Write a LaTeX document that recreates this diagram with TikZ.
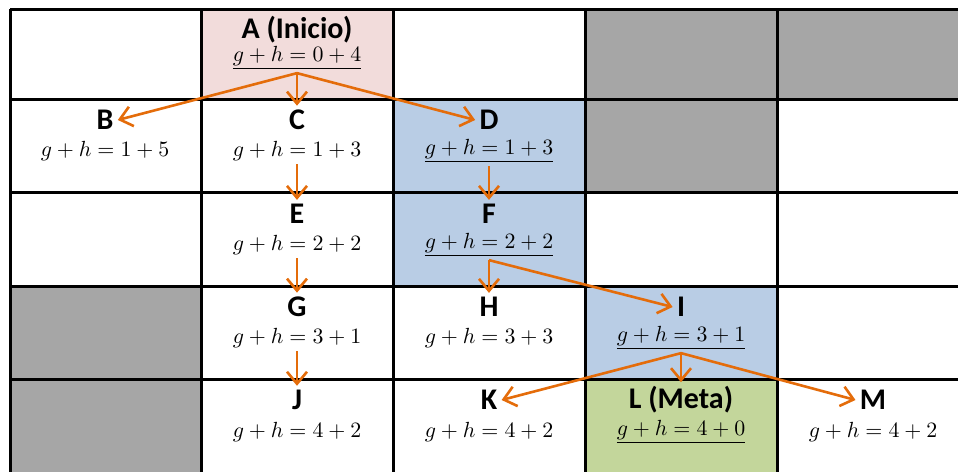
\documentclass[tikz,border=0pt]{standalone}
\usepackage{fontspec}
\setsansfont{Carlito}
\usepackage{xcolor}
\usepackage{tikz}
\usetikzlibrary{arrows.meta}

\definecolor{startfill}{HTML}{F2DCDB}
\definecolor{pathfill}{HTML}{B9CDE5}
\definecolor{goalfill}{HTML}{C3D69B}
\definecolor{wallfill}{HTML}{A6A6A6}
\definecolor{movecol}{HTML}{E46C0A}

\begin{document}
\begin{tikzpicture}[x=0.5pt, y=-0.5pt, >={Straight Barb[length=6pt, width=10pt]},
  lbl/.style={font=\sffamily\bfseries\fontsize{15}{17}\selectfont, inner sep=2pt},
  cost/.style={font=\fontsize{11}{13}\selectfont, inner sep=1.5pt},
  move/.style={->, draw=movecol, line width=1.3pt}]
  \useasboundingbox (0,0) rectangle (958,471);
  \begin{scope}
    \clip (0,0) rectangle (958,471);
    % cell colours
    \fill[startfill] (201,9) rectangle (393,99);
    \fill[pathfill] (393,99) rectangle (585,286);
    \fill[pathfill] (585,286) rectangle (777,379);
    \fill[goalfill] (585,379) rectangle (777,475);
    \fill[wallfill] (585,9) rectangle (970,99);
    \fill[wallfill] (585,99) rectangle (777,192);
    \fill[wallfill] (10,286) rectangle (201,475);
    % grid
    \foreach \y in {9,99,192,286,379}
      \draw[line width=1.5pt] (10,\y) -- (970,\y);
    \foreach \x in {10,201,393,585,777}
      \draw[line width=1.5pt] (\x,9) -- (\x,475);
  \end{scope}

  % states
  \node[lbl] (A) at (297,30) {A (Inicio)};
  \node[cost] (fA) at (297,58) {$\underline{g+h=0+4}$};
  \node[lbl] (B) at (105,120) {B};
  \node[cost] (fB) at (105,151) {$g+h=1+5$};
  \node[lbl] (C) at (297,120) {C};
  \node[cost] (fC) at (297,151) {$g+h=1+3$};
  \node[lbl] (D) at (489,120) {D};
  \node[cost] (fD) at (489,151) {$\underline{g+h=1+3}$};
  \node[lbl] (E) at (297,214) {E};
  \node[cost] (fE) at (297,245) {$g+h=2+2$};
  \node[lbl] (F) at (489,214) {F};
  \node[cost] (fF) at (489,245) {$\underline{g+h=2+2}$};
  \node[lbl] (G) at (297,307) {G};
  \node[cost] (fG) at (297,338) {$g+h=3+1$};
  \node[lbl] (H) at (489,307) {H};
  \node[cost] (fH) at (489,338) {$g+h=3+3$};
  \node[lbl] (I) at (681,307) {I};
  \node[cost] (fI) at (681,338) {$\underline{g+h=3+1}$};
  \node[lbl] (J) at (297,400) {J};
  \node[cost] (fJ) at (297,432) {$g+h=4+2$};
  \node[lbl] (K) at (489,400) {K};
  \node[cost] (fK) at (489,432) {$g+h=4+2$};
  \node[lbl] (L) at (681,400) {L (Meta)};
  \node[cost] (fL) at (681,432) {$\underline{g+h=4+0}$};
  \node[lbl] (M) at (873,400) {M};
  \node[cost] (fM) at (873,432) {$g+h=4+2$};

  % expansions
  \draw[move] (fA.south) -- (B.east);
  \draw[move] (fA.south) -- (C.north);
  \draw[move] (fA.south) -- (D.west);
  \draw[move] (fC.south) -- (E.north);
  \draw[move] (fD.south) -- (F.north);
  \draw[move] (fE.south) -- (G.north);
  \draw[move] (fF.south) -- (H.north);
  \draw[move] (fF.south) -- (I.west);
  \draw[move] (fG.south) -- (J.north);
  \draw[move] (fI.south) -- (K.east);
  \draw[move] (fI.south) -- (L.north);
  \draw[move] (fI.south) -- (M.west);
\end{tikzpicture}
\end{document}
